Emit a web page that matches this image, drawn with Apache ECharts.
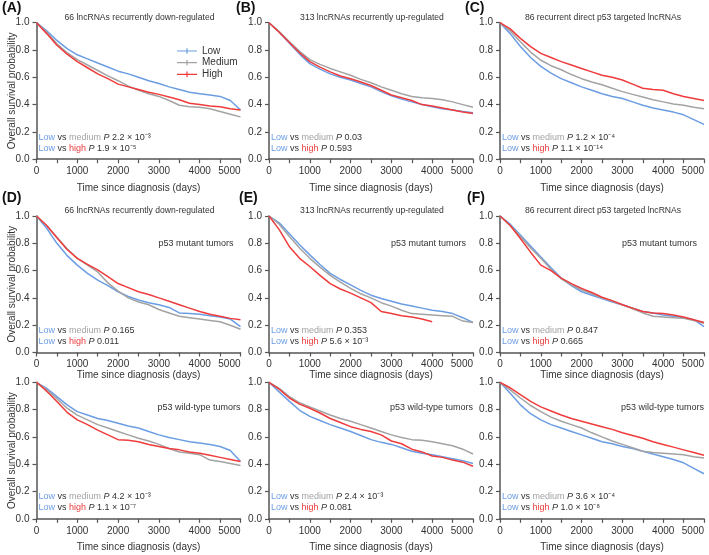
<!DOCTYPE html>
<html><head><meta charset="utf-8">
<script src="https://cdn.jsdelivr.net/npm/echarts@6.0.0/dist/echarts.min.js"></script>
<style>html,body{margin:0;padding:0;background:#fff}#c{width:709px;height:555px}</style>
</head><body><div id="c"></div><script>
// ---- data (survival probability read at every 250 days) ----
const days = [0,250,500,750,1000,1250,1500,1750,2000,2250,2500,2750,3000,3250,3500,3750,4000,4250,4500,4750,5000];

const A_low  = [1.0,0.94,0.87,0.81,0.765,0.735,0.705,0.675,0.645,0.625,0.60,0.575,0.555,0.53,0.51,0.49,0.48,0.47,0.46,0.43,0.36];
const A_med  = [1.0,0.93,0.845,0.78,0.73,0.69,0.65,0.61,0.575,0.535,0.505,0.48,0.46,0.43,0.395,0.385,0.38,0.37,0.35,0.33,0.31];
const A_high = [1.0,0.92,0.835,0.77,0.715,0.67,0.625,0.59,0.55,0.53,0.51,0.49,0.475,0.455,0.435,0.41,0.40,0.39,0.385,0.37,0.36];

const B_low  = [1.0,0.93,0.85,0.77,0.70,0.66,0.625,0.60,0.58,0.555,0.53,0.495,0.465,0.44,0.42,0.40,0.385,0.37,0.36,0.35,0.34];
const B_med  = [1.0,0.935,0.86,0.79,0.73,0.695,0.665,0.64,0.615,0.585,0.56,0.53,0.505,0.48,0.46,0.45,0.445,0.435,0.42,0.40,0.38];
const B_high = [1.0,0.93,0.855,0.78,0.715,0.675,0.64,0.61,0.59,0.565,0.54,0.505,0.47,0.45,0.43,0.40,0.39,0.375,0.36,0.345,0.335];

const C_low  = [1.0,0.92,0.825,0.745,0.68,0.63,0.59,0.56,0.53,0.505,0.48,0.46,0.445,0.42,0.395,0.375,0.36,0.345,0.325,0.29,0.255];
const C_med  = [1.0,0.94,0.86,0.785,0.725,0.685,0.655,0.62,0.59,0.565,0.545,0.52,0.495,0.475,0.455,0.435,0.42,0.405,0.395,0.38,0.37];
const C_high = [1.0,0.955,0.885,0.825,0.775,0.745,0.715,0.69,0.665,0.64,0.615,0.60,0.58,0.55,0.52,0.51,0.505,0.48,0.46,0.445,0.43];

const D_low  = [1.0,0.91,0.80,0.71,0.64,0.58,0.53,0.49,0.445,0.41,0.385,0.365,0.35,0.33,0.29,0.285,0.28,0.27,0.26,0.245,0.19];
const D_med  = [1.0,0.93,0.845,0.76,0.69,0.64,0.59,0.51,0.45,0.40,0.37,0.35,0.315,0.29,0.265,0.255,0.245,0.235,0.225,0.20,0.17];
const D_high = [1.0,0.93,0.84,0.755,0.69,0.645,0.605,0.555,0.505,0.475,0.445,0.425,0.40,0.375,0.35,0.325,0.30,0.28,0.265,0.25,0.24];

const E_low  = [1.0,0.95,0.87,0.79,0.715,0.645,0.58,0.535,0.495,0.455,0.42,0.395,0.375,0.355,0.34,0.325,0.31,0.30,0.285,0.255,0.22];
const E_med  = [1.0,0.94,0.85,0.765,0.69,0.625,0.565,0.515,0.47,0.43,0.40,0.365,0.34,0.31,0.285,0.28,0.275,0.27,0.265,0.23,0.22];
const E_high = [1.0,0.90,0.775,0.69,0.63,0.565,0.505,0.465,0.435,0.40,0.365,0.30,0.285,0.27,0.26,0.245,0.225];

const F_low  = [1.0,0.94,0.86,0.78,0.70,0.62,0.545,0.49,0.445,0.42,0.395,0.37,0.35,0.325,0.30,0.29,0.275,0.265,0.255,0.24,0.19];
const F_med  = [1.0,0.93,0.85,0.765,0.69,0.61,0.54,0.495,0.46,0.43,0.40,0.375,0.35,0.32,0.29,0.265,0.26,0.255,0.25,0.235,0.215];
const F_high = [1.0,0.93,0.835,0.735,0.64,0.60,0.545,0.505,0.47,0.44,0.405,0.38,0.35,0.325,0.30,0.29,0.285,0.275,0.26,0.24,0.22];

const G_low  = [1.0,0.955,0.895,0.835,0.785,0.76,0.735,0.72,0.70,0.68,0.665,0.64,0.615,0.595,0.58,0.565,0.555,0.545,0.53,0.50,0.42];
const G_med  = [1.0,0.945,0.88,0.81,0.76,0.725,0.69,0.665,0.64,0.615,0.59,0.57,0.545,0.515,0.49,0.48,0.47,0.43,0.42,0.405,0.39];
const G_high = [1.0,0.935,0.86,0.78,0.725,0.69,0.65,0.615,0.58,0.575,0.565,0.545,0.53,0.515,0.505,0.49,0.48,0.465,0.45,0.435,0.42];

const H_low  = [1.0,0.93,0.86,0.795,0.75,0.72,0.69,0.665,0.64,0.61,0.58,0.56,0.545,0.52,0.495,0.48,0.47,0.455,0.44,0.425,0.405];
const H_med  = [1.0,0.955,0.895,0.85,0.82,0.79,0.76,0.735,0.715,0.69,0.665,0.64,0.615,0.595,0.58,0.575,0.565,0.55,0.535,0.51,0.475];
const H_high = [1.0,0.95,0.885,0.84,0.81,0.775,0.735,0.705,0.675,0.655,0.64,0.615,0.57,0.55,0.51,0.49,0.46,0.45,0.43,0.415,0.385];

const I_low  = [1.0,0.92,0.835,0.77,0.725,0.69,0.665,0.64,0.615,0.59,0.565,0.55,0.53,0.515,0.495,0.475,0.455,0.435,0.41,0.37,0.33];
const I_med  = [1.0,0.945,0.885,0.83,0.785,0.745,0.715,0.69,0.665,0.63,0.60,0.57,0.545,0.52,0.495,0.485,0.48,0.475,0.47,0.455,0.445];
const I_high = [1.0,0.96,0.91,0.86,0.82,0.79,0.76,0.735,0.715,0.695,0.675,0.655,0.63,0.61,0.59,0.565,0.545,0.525,0.505,0.485,0.465];

const groupNames = ['Low','Medium','High'];
const panelLetters = ['(A)','(B)','(C)','(D)','(E)','(F)'];
const panelTitles = ['66 lncRNAs recurrently down-regulated','313 lncRNAs recurrently up-regulated','86 recurrent direct p53 targeted lncRNAs'];
const rowLabels = ['', 'p53 mutant tumors', 'p53 wild-type tumors'];
const pMedium = ['2.2 × 10⁻³','0.03','1.2 × 10⁻⁴','0.165','0.353','0.847','4.2 × 10⁻³','2.4 × 10⁻³','3.6 × 10⁻⁴'];
const pHigh   = ['1.9 × 10⁻⁵','0.593','1.1 × 10⁻¹⁴','0.011','5.6 × 10⁻³','0.665','1.1 × 10⁻⁷','0.081','1.0 × 10⁻⁸'];
const xTitle = 'Time since diagnosis (days)';
const yTitle = 'Overall survival probability';

const panels = [
  [A_low,A_med,A_high],[B_low,B_med,B_high],[C_low,C_med,C_high],
  [D_low,D_med,D_high],[E_low,E_med,E_high],[F_low,F_med,F_high],
  [G_low,G_med,G_high],[H_low,H_med,H_high],[I_low,I_med,I_high]
];

// ---- layout / style ----
const COLORS = ['#6b9de3','#a3a3a3','#ef3b3b'];
const AX = '#555';
const TXT = '#333';
const FONT = 'Liberation Sans, Arial, sans-serif';
const colLeft = [36.5, 269, 500];
const colW = 204;
const rowTop = [22.7, 216, 382.3];
const rowH = 136.5;

const grids = [], xAxes = [], yAxes = [], series = [], graphics = [];
for (let p = 0; p < 9; p++) {
  const r = Math.floor(p / 3), c = p % 3;
  grids.push({left: colLeft[c], top: rowTop[r], width: colW, height: rowH});
  xAxes.push({
    type: 'value', gridIndex: p, min: 0, max: 5000, interval: 1000,
    axisLine: {show: true, lineStyle: {color: AX, width: 1.5}},
    axisTick: {show: true, length: 4, lineStyle: {color: AX, width: 1.2}},
    minorTick: {show: true, splitNumber: 2, length: 4, lineStyle: {color: AX, width: 1.2}},
    splitLine: {show: false},
    axisLabel: {color: TXT, fontSize: 10, fontFamily: FONT, margin: 7, alignMaxLabel: 'right', formatter: v => String(v)}
  });
  yAxes.push({
    type: 'value', gridIndex: p, min: 0, max: 1, interval: 0.2,
    axisLine: {show: true, lineStyle: {color: AX, width: 1.5}},
    axisTick: {show: true, length: 4, lineStyle: {color: AX, width: 1.2}},
    splitLine: {show: false},
    axisLabel: {color: TXT, fontSize: 10, fontFamily: FONT, margin: 7, formatter: v => v.toFixed(1)}
  });
  panels[p].forEach((vals, g) => {
    series.push({
      name: groupNames[g], type: 'line', xAxisIndex: p, yAxisIndex: p,
      data: vals.map((v, i) => [days[i], v]),
      showSymbol: false, symbol: 'none', smooth: false,
      lineStyle: {color: COLORS[g], width: 1.5},
      itemStyle: {color: COLORS[g]},
      z: 2 + g
    });
  });
  const gl = colLeft[c], gr = colLeft[c] + colW, gb = rowTop[r] + rowH;
  const rich = {
    b: {fill: COLORS[0], fontSize: 9, fontFamily: FONT},
    g: {fill: COLORS[1], fontSize: 9, fontFamily: FONT},
    h: {fill: COLORS[2], fontSize: 9, fontFamily: FONT},
    k: {fill: TXT, fontSize: 9, fontFamily: FONT},
    i: {fill: TXT, fontSize: 9, fontFamily: FONT, fontStyle: 'italic'}
  };
  graphics.push({type: 'text', x: gl + 2, y: gb - 22, z: 10,
    style: {text: '{b|Low} {k|vs} {g|medium} {i|P} {k|' + pMedium[p] + '}', rich, fontSize: 9, fontFamily: FONT, verticalAlign: 'middle', align: 'left'}});
  graphics.push({type: 'text', x: gl + 2, y: gb - 11, z: 10,
    style: {text: '{b|Low} {k|vs} {h|high} {i|P} {k|' + pHigh[p] + '}', rich, fontSize: 9, fontFamily: FONT, verticalAlign: 'middle', align: 'left'}});
  if (r < 2) {
    graphics.push({type: 'text', x: gl + colW / 2 + 1, y: rowTop[r] - 5.5, z: 10,
      style: {text: panelTitles[c], fill: TXT, fontSize: 8.6, fontFamily: FONT, align: 'center', verticalAlign: 'middle'}});
  }
  if (r === 1) {
    graphics.push({type: 'text', x: gr - 7, y: rowTop[r] + 28, z: 10,
      style: {text: rowLabels[1], fill: TXT, fontSize: 9, fontFamily: FONT, align: 'right', verticalAlign: 'middle'}});
  }
  if (r === 2) {
    graphics.push({type: 'text', x: gr, y: rowTop[r] + 25.5, z: 10,
      style: {text: rowLabels[2], fill: TXT, fontSize: 9, fontFamily: FONT, align: 'right', verticalAlign: 'middle'}});
  }
}
const xTitleY = [188.3, 375.5, 547.7];
for (let r = 0; r < 3; r++) for (let c = 0; c < 3; c++) {
  graphics.push({type: 'text', x: colLeft[c] + colW / 2, y: xTitleY[r], z: 10,
    style: {text: xTitle, fill: TXT, fontSize: 10, fontFamily: FONT, align: 'center', verticalAlign: 'middle'}});
}
for (let r = 0; r < 3; r++) {
  graphics.push({type: 'text', x: 12, y: rowTop[r] + rowH / 2, rotation: Math.PI / 2, z: 10,
    style: {text: yTitle, fill: TXT, fontSize: 10, fontFamily: FONT, align: 'center', verticalAlign: 'middle'}});
}
const letterPos = [[2, 8.3], [236, 8.3], [465, 8.3], [2, 198.3], [239, 198.3], [467, 198.3]];
panelLetters.forEach((t, i) => {
  graphics.push({type: 'text', x: letterPos[i][0], y: letterPos[i][1], z: 10,
    style: {text: t, fill: '#111', fontSize: 14, fontWeight: 'bold', fontFamily: FONT, align: 'left', verticalAlign: 'middle'}});
});

const chart = echarts.init(document.getElementById('c'), null, {renderer: 'canvas'});
chart.setOption({
  animation: false,
  backgroundColor: '#fff',
  grid: grids, xAxis: xAxes, yAxis: yAxes, series,
  legend: {
    data: groupNames, orient: 'vertical', left: 172, top: 41,
    itemWidth: 20, itemHeight: 10, itemGap: 1.7,
    icon: 'path://M0,4.4h20v1.2h-20z M9.4,2.2h1.2v5.6h-1.2z',
    textStyle: {color: TXT, fontSize: 10, fontFamily: FONT, lineHeight: 10},
    selectedMode: false
  },
  graphic: graphics
});
</script></body></html>
